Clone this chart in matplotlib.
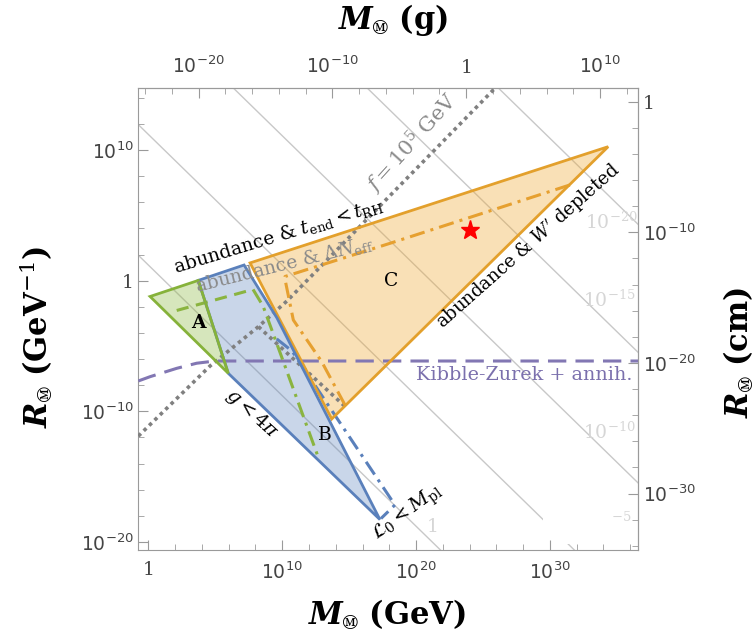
import numpy as np
import matplotlib.pyplot as plt
from matplotlib.patches import Rectangle
from matplotlib.ticker import FixedLocator, FuncFormatter, NullFormatter

plt.rcParams['mathtext.fontset'] = 'dejavuserif'
plt.rcParams['font.family'] = 'DejaVu Serif'

GEV_TO_G = 1.7827e-24
GEVINV_TO_CM = 1.9733e-14

# everything below is log10(M / GeV) and log10(R / GeV^-1)
region_a_m = [0.13, 3.73, 5.97]
region_a_r = [-1.21, 0.02, -7.09]
region_b_m = [3.73, 7.15, 9.61, 17.30, 5.97]
region_b_r = [0.02, 1.20, -2.86, -18.29, -7.09]
region_c_m = [7.60, 34.35, 13.70]
region_c_r = [1.36, 10.26, -10.59]

green_dash_m = [2.12, 7.82]
green_dash_r = [-2.28, -0.67]
green_dashdot_m = [7.82, 8.57, 12.70]
green_dashdot_r = [-0.67, -1.94, -13.54]
orange_dashdot_m = [31.49, 18.05, 10.21, 10.25, 10.83, 12.95, 14.69]
orange_dashdot_r = [7.33, 2.86, 0.32, -0.10, -3.01, -6.20, -9.52]
blue_dashdot_m = [9.59, 10.73, 18.42, 17.38]
blue_dashdot_r = [-4.46, -5.38, -17.17, -18.21]
kz_m = [-0.75, 0.13, 2.12, 3.61, 4.98, 36.6]
kz_r = [-7.68, -7.35, -6.71, -6.32, -6.15, -6.15]
f_line_m = [-0.75, 4.61, 8.22, 10.36, 25.89]
f_line_r = [-11.90, -6.53, -3.52, -1.55, 14.73]
f_branch_m = [8.22, 14.82]
f_branch_r = [-3.52, -9.75]
star_m, star_r = 24.03, 3.87

# gray background contours: lines of constant log10(M R)
contour_levels = [1.2, 11.2, 21.1, 31.1, 40.9]
contour_labels = ['1', r'$^{-5}$', r'$10^{-10}$', r'$10^{-15}$', r'$10^{-20}$']

xlim_log = (-0.75, 36.6)
ylim_log = (-20.62, 14.73)


def p(v):
    return 10.0 ** np.asarray(v)


def log_label(v, pos):
    e = int(round(np.log10(v)))
    if e == 0:
        return '1'
    return r'$\mathsf{10^{%d}}$' % e


fig = plt.figure(figsize=(7.56, 6.37), dpi=100)
ax = fig.add_axes([138.3 / 756, 1 - 550 / 637, 500 / 756, (550 - 88.3) / 637])
ax.set_xscale('log')
ax.set_yscale('log')
ax.set_xlim(p(xlim_log[0]), p(xlim_log[1]))
ax.set_ylim(p(ylim_log[0]), p(ylim_log[1]))

# contours
lx = np.array([-2.0, 40.0])
for c in contour_levels:
    ax.plot(p(lx), p(c - lx), color='#c8c8c8', lw=1.0, zorder=1)
ax.add_patch(Rectangle((0.81, 0.012), 0.152, 0.07, transform=ax.transAxes,
                       facecolor='white', edgecolor='none', zorder=1.5))

lab_kw = dict(color='#d6d6d6', fontsize=13.5, ha='center', va='center', zorder=2)
ax.text(p(21.25), p(-18.86), contour_labels[0], **lab_kw)
ax.text(p(35.35), p(-18.40), contour_labels[1], **lab_kw)
ax.text(p(34.41), p(-11.58), contour_labels[2], **lab_kw)
ax.text(p(34.41), p(-1.48), contour_labels[3], **lab_kw)
ax.text(p(34.63), p(4.49), contour_labels[4], **lab_kw)

# regions
ax.fill(p(region_c_m), p(region_c_r), facecolor='#f0a830', alpha=0.35, edgecolor='none', zorder=2)
ax.fill(p(region_b_m), p(region_b_r), facecolor='#5b83bd', alpha=0.33, edgecolor='none', zorder=2)
ax.fill(p(region_a_m), p(region_a_r), facecolor='#8cb83f', alpha=0.35, edgecolor='none', zorder=2)

# dashed constraint lines
ax.plot(p(kz_m), p(kz_r), color='#8277b3', lw=2.2, dashes=(6, 3), zorder=3)
ax.plot(p(f_line_m), p(f_line_r), color='#808080', lw=2.6, dashes=(1, 1.1), zorder=3)
ax.plot(p(f_branch_m), p(f_branch_r), color='#808080', lw=2.6, dashes=(1, 1.1), zorder=3)
ax.plot(p(green_dash_m), p(green_dash_r), color='#8ab440', lw=2.2, dashes=(4, 2.5), zorder=4)
ax.plot(p(green_dashdot_m), p(green_dashdot_r), color='#8ab440', lw=2.2,
        dashes=(5, 2, 1, 2), zorder=4)
ax.plot(p(orange_dashdot_m), p(orange_dashdot_r), color='#e6a030', lw=2.2,
        dashes=(5, 2, 1, 2), zorder=4)
ax.plot(p(blue_dashdot_m), p(blue_dashdot_r), color='#5a80bb', lw=2.2,
        dashes=(5, 2, 1, 2), zorder=4)

# region outlines
ax.fill(p(region_c_m), p(region_c_r), facecolor='none', edgecolor='#e3a02c', lw=2.0, zorder=5)
ax.fill(p(region_b_m), p(region_b_r), facecolor='none', edgecolor='#5a80bb', lw=2.0, zorder=5)
ax.fill(p(region_a_m), p(region_a_r), facecolor='none', edgecolor='#86b23a', lw=2.0, zorder=5)

ax.plot(p(star_m), p(star_r), marker='*', color='red', markersize=14, zorder=6)

# annotations
t_kw = dict(ha='center', va='center', rotation_mode='anchor', zorder=7)
ax.text(p(3.74), p(-3.25), 'A', fontsize=13.5, fontweight='bold', **t_kw)
ax.text(p(13.20), p(-11.82), 'B', fontsize=13.5, **t_kw)
ax.text(p(18.12), p(-0.02), 'C', fontsize=13.5, **t_kw)
ax.text(p(9.75), p(3.45), r'abundance & $t_{\rm end} < t_{\rm RH}$', fontsize=13.5,
        rotation=17, **t_kw)
ax.text(p(10.13), p(1.20), r'abundance & $\Delta N_{\rm eff}$', fontsize=13.5,
        color='#8a8a8a', rotation=14, **t_kw)
ax.text(p(19.70), p(10.55), r'$f = 10^5$ GeV', fontsize=15, color='#8a8a8a',
        rotation=48, **t_kw)
ax.text(p(28.40), p(2.60), r"abundance & $W'$ depleted", fontsize=13,
        rotation=41.5, **t_kw)
ax.text(p(36.13), p(-7.22), 'Kibble-Zurek + annih.', fontsize=13.8, color='#7b70ad',
        ha='right', va='center', zorder=7)
ax.text(p(7.74), p(-10.13), r'$g < 4\pi$', fontsize=14, rotation=-42.5, **t_kw)
ax.text(p(19.39), p(-17.81), r'$\mathcal{L}_0 < M_{\rm pl}$', fontsize=14,
        rotation=36, **t_kw)

# axes styling
frame_col = '#9a9a9a'
for s in ax.spines.values():
    s.set_color(frame_col)
tick_kw = dict(which='both', direction='in', color=frame_col, labelcolor='#444444',
               labelsize=13.5)
ax.xaxis.set_major_locator(FixedLocator(p(np.arange(0, 40, 10))))
ax.xaxis.set_minor_locator(FixedLocator(p(np.arange(-2, 40, 2))))
ax.yaxis.set_major_locator(FixedLocator(p(np.arange(-20, 20, 10))))
ax.yaxis.set_minor_locator(FixedLocator(p(np.arange(-22, 16, 2))))
for axis in (ax.xaxis, ax.yaxis):
    axis.set_major_formatter(FuncFormatter(log_label))
    axis.set_minor_formatter(NullFormatter())
ax.tick_params(**tick_kw)
ax.tick_params(which='major', length=7)
ax.tick_params(which='minor', length=4)
ax.tick_params(axis='x', pad=8)

top = ax.secondary_xaxis('top', functions=(lambda m: m * GEV_TO_G, lambda g: g / GEV_TO_G))
right = ax.secondary_yaxis('right', functions=(lambda r: r * GEVINV_TO_CM,
                                                lambda c: c / GEVINV_TO_CM))
top.xaxis.set_major_locator(FixedLocator(p(np.arange(-20, 20, 10))))
top.xaxis.set_minor_locator(FixedLocator(p(np.arange(-26, 14, 2))))
right.yaxis.set_major_locator(FixedLocator(p(np.arange(-30, 10, 10))))
right.yaxis.set_minor_locator(FixedLocator(p(np.arange(-36, 2, 2))))
for sec, axis in ((top, top.xaxis), (right, right.yaxis)):
    axis.set_major_formatter(FuncFormatter(log_label))
    axis.set_minor_formatter(NullFormatter())
    for s in sec.spines.values():
        s.set_color(frame_col)
    sec.tick_params(**tick_kw)
    sec.tick_params(which='major', length=7)
    sec.tick_params(which='minor', length=4)
top.tick_params(pad=8)

# axis titles
lbl = dict(fontsize=22, fontweight='bold', ha='center', va='center')
fig.text(387 / 756, 1 - 614 / 637, r'$\mathbfit{M}_{Ⓜ}$ (GeV)', **lbl)
fig.text(393 / 756, 1 - 20 / 637, r'$\mathbfit{M}_{Ⓜ}$ (g)', **lbl)
fig.text(36 / 756, 1 - 337 / 637, r'$\mathbfit{R}_{Ⓜ}$ (GeV$^{-1}$)', rotation=90, **lbl)
fig.text(738 / 756, 1 - 352 / 637, r'$\mathbfit{R}_{Ⓜ}$ (cm)', rotation=90, **lbl)

fig.savefig('out.png', dpi=100)
